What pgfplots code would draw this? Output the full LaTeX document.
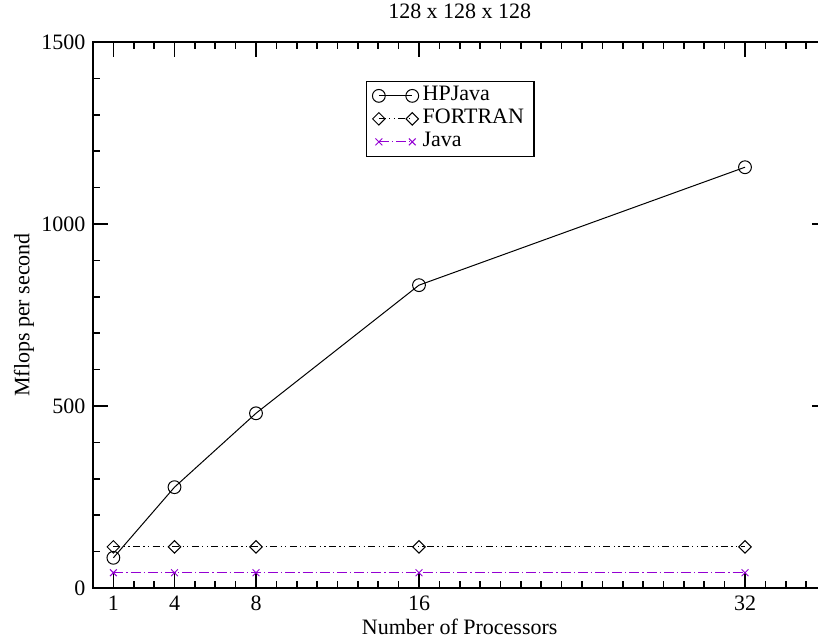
\documentclass[border=0pt]{standalone}
\usepackage{fontspec}
\setmainfont{Liberation Serif}
\usepackage{pgfplots}
\pgfplotsset{compat=1.18}
\definecolor{grviolet}{RGB}{148,0,211}

\begin{document}
\fontsize{11}{13.2}\selectfont
\begin{tikzpicture}
\begin{axis}[
    scale only axis,
    width=366.75pt, height=273pt,
    xmin=0, xmax=36, ymin=0, ymax=1500,
    xtick={1,4,8,16,32},
    minor xtick={0,...,36},
    ytick={0,500,1000,1500},
    minor ytick={0,100,...,1500},
    tick align=inside,
    major tick length=7.5pt,
    minor tick length=3.5pt,
    every tick/.style={black, line width=0.8pt},
    axis line style={line width=1pt},
    /pgf/number format/assume math mode=true,
    /pgf/number format/1000 sep={},
    title={128 x 128 x 128},
    title style={at={(axis description cs:0.5,1)}, anchor=base, yshift=5.8pt},
    xlabel={Number of Processors},
    xlabel style={at={(axis description cs:0.5,0)}, anchor=base, yshift=-23pt},
    ylabel={Mflops per second},
    ylabel style={at={(axis description cs:-0.094,0.5)}, anchor=center},
    legend style={at={(axis description cs:0.372,0.929)}, anchor=north west,
        draw=black, line width=0.6pt, inner xsep=3pt, inner ysep=1.5pt,
        nodes={inner ysep=1pt, text height=7pt, text depth=2.5pt},
        row sep=0pt},
    legend cell align=left,
    legend image code/.code={\draw[#1] plot coordinates {(0pt,0pt) (16.7pt,0pt)};},
]
\addplot[black, line width=0.5pt, mark=o, mark size=3.2pt] coordinates {
    (1,83) (4,277) (8,480) (16,832) (32,1156)
};
\addlegendentry{HPJava}
\addplot[black, line width=0.5pt,
    dash pattern=on 3.5pt off 1.7pt on 0.6pt off 1.7pt on 0.6pt off 1.7pt,
    mark=square, mark size=2.2pt, mark options={solid, rotate=45}] coordinates {
    (1,113) (4,113) (8,113) (16,113) (32,113)
};
\addlegendentry{FORTRAN}
\addplot[grviolet, line width=0.5pt,
    dash pattern=on 5pt off 1.5pt on 0.6pt off 1.5pt,
    mark=x, mark size=2.4pt, mark options={solid}] coordinates {
    (1,42) (4,42) (8,42) (16,42) (32,42)
};
\addlegendentry{Java}
\coordinate (sw) at (rel axis cs:0,0);
\end{axis}
\pgfresetboundingbox
\path (sw) ++(-46.5pt,-25.5pt) rectangle ++(409pt,319.5pt);
\end{tikzpicture}
\end{document}
